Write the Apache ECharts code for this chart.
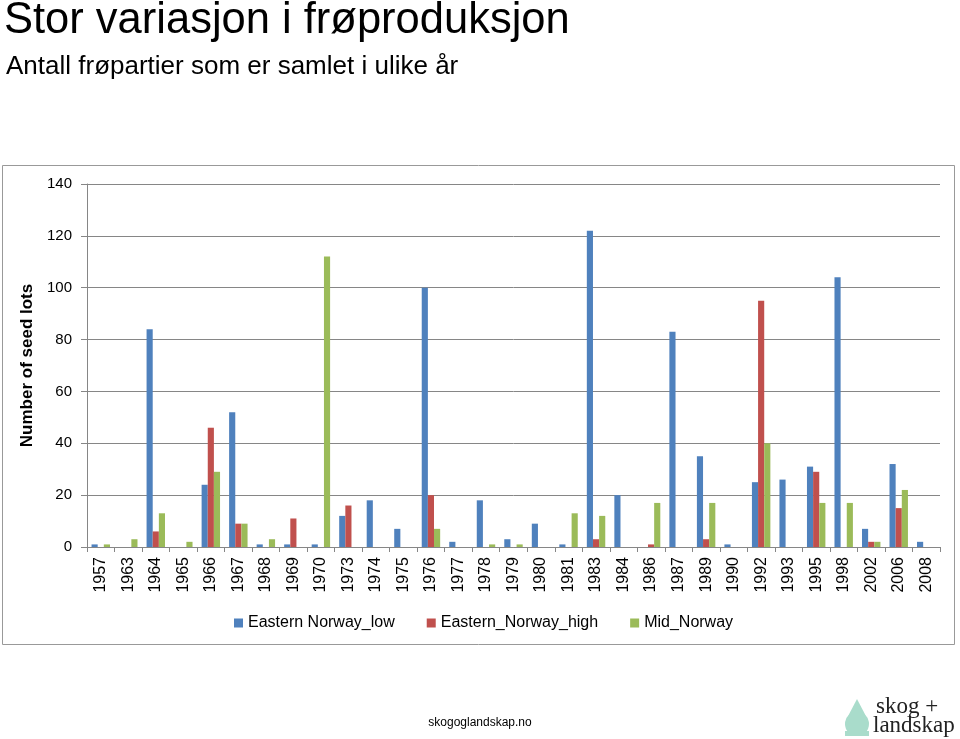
<!DOCTYPE html>
<html>
<head>
<meta charset="utf-8">
<script src="https://cdn.jsdelivr.net/npm/echarts@6/dist/echarts.min.js"></script>
<style>html,body{margin:0;padding:0;background:#fff;}#c{width:960px;height:739px;}</style>
</head>
<body>
<div id="c"></div>
<script>
const categories = ['1957','1963','1964','1965','1966','1967','1968','1969','1970','1973','1974','1975','1976','1977','1978','1979','1980','1981','1983','1984','1986','1987','1989','1990','1992','1993','1995','1998','2002','2006','2008'];
const easternLow  = [1,0,84,0,24,52,1,1,1,12,18,7,100,2,18,3,9,1,122,20,0,83,35,1,25,26,31,104,7,32,2];
const easternHigh = [0,0,6,0,46,9,0,11,0,16,0,0,20,0,0,0,0,0,3,0,1,0,3,0,95,0,29,0,2,15,0];
const midNorway   = [1,3,13,2,29,9,3,0,112,0,0,0,7,0,1,1,0,13,12,0,17,0,17,0,40,0,17,17,2,22,0];
const seriesNames = ['Eastern Norway_low','Eastern_Norway_high','Mid_Norway'];
const yTicks = [0,20,40,60,80,100,120,140];

const chart = echarts.init(document.getElementById('c'), null, {renderer:'canvas'});
const font = 'Liberation Sans, Arial, sans-serif';
const colors = ['#4F81BD','#C0504D','#9BBB59'];
const mk = (name, data, i) => ({
  name, type:'bar', data, barGap:'0%', barCategoryGap:'33%',
  itemStyle:{color:colors[i]}, animation:false
});
chart.setOption({
  animation:false,
  textStyle:{fontFamily:font},
  title:[
    {text:'Stor variasjon i frøproduksjon', left:-1, top:-6,
     textStyle:{fontFamily:font, fontSize:43.5, fontWeight:'normal', color:'#000'}},
    {text:'Antall frøpartier som er samlet i ulike år', left:1, top:49,
     textStyle:{fontFamily:font, fontSize:26, fontWeight:'normal', color:'#000'}}
  ],
  legend:{
    data:seriesNames, left:229, top:610, itemWidth:9, itemHeight:9, itemGap:32,
    icon:'rect', textStyle:{fontFamily:font, fontSize:16, color:'#000'}
  },
  grid:{left:87, top:184, right:20, bottom:192, containLabel:false},
  xAxis:{
    type:'category', data:categories,
    axisLine:{lineStyle:{color:'#868686', width:1}},
    axisTick:{show:true, length:5, lineStyle:{color:'#868686'}},
    axisLabel:{rotate:90, margin:10, fontFamily:font, fontSize:16, color:'#000', interval:0}
  },
  yAxis:{
    type:'value', min:0, max:140, interval:20,
    name:'Number of seed lots', nameLocation:'middle', nameGap:45,
    nameTextStyle:{fontFamily:font, fontSize:17, fontWeight:'bold', color:'#000'},
    axisLine:{show:true, lineStyle:{color:'#868686'}},
    axisTick:{show:true, length:6, lineStyle:{color:'#868686'}},
    axisLabel:{margin:15, fontFamily:font, fontSize:15, color:'#000',
      formatter:v => yTicks.includes(v) ? String(v) : ''},
    splitLine:{lineStyle:{color:'#868686', width:1}}
  },
  series:[mk(seriesNames[0],easternLow,0), mk(seriesNames[1],easternHigh,1), mk(seriesNames[2],midNorway,2)],
  graphic:[
    {type:'rect', shape:{x:2.5, y:165.5, width:952, height:479}, style:{fill:'none', stroke:'#999', lineWidth:1}, silent:true},
    {type:'text', left:'center', top:717, style:{text:'skogoglandskap.no', font:'12px Liberation Sans, Arial, sans-serif', fill:'#000'}},
    {type:'circle', shape:{cx:857, cy:724, r:12}, style:{fill:'#a9dccb'}},
    {type:'polygon', shape:{points:[[857,699],[846,720],[868,720]]}, style:{fill:'#a9dccb'}},
    {type:'rect', shape:{x:845, y:731, width:24, height:5}, style:{fill:'#a9dccb'}},
    {type:'text', left:876, top:695, style:{text:'skog +', font:'23px Liberation Serif, DejaVu Serif, serif', fill:'#222'}},
    {type:'text', left:873, top:714, style:{text:'landskap', font:'23px Liberation Serif, DejaVu Serif, serif', fill:'#222'}}
  ]
});
</script>
</body>
</html>
